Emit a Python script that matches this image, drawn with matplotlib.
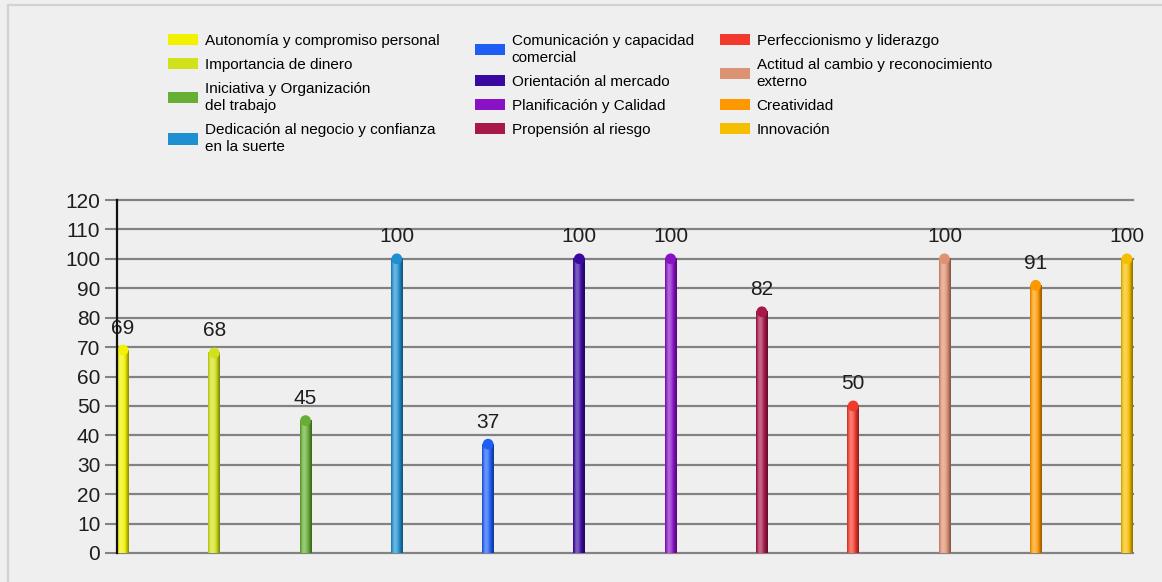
import numpy as np
import matplotlib.pyplot as plt
from matplotlib.patches import Patch
from matplotlib.colors import to_rgb
from matplotlib.lines import Line2D

plt.rcParams["font.family"] = ["Liberation Sans", "DejaVu Sans"]

categories = [
    "Autonomía y compromiso personal",
    "Importancia de dinero",
    "Iniciativa y Organización\ndel trabajo",
    "Dedicación al negocio y confianza\nen la suerte",
    "Comunicación y capacidad\ncomercial",
    "Orientación al mercado",
    "Planificación y Calidad",
    "Propensión al riesgo",
    "Perfeccionismo y liderazgo",
    "Actitud al cambio y reconocimiento\nexterno",
    "Creatividad",
    "Innovación",
]
values = [69, 68, 45, 100, 37, 100, 100, 82, 50, 100, 91, 100]
colors = [
    "#F2F200", "#D2E21A", "#67AE34", "#1E8FD0",
    "#1F5EF5", "#3A0AA0", "#8A12C6", "#A8174A",
    "#F23A2C", "#DE9274", "#FF9800", "#F6BE00",
]
yticks = list(range(0, 121, 10))

BG = "#EFEFEF"
GRID = "#828282"

fig = plt.figure(figsize=(11.62, 5.82), dpi=100, facecolor=BG)
ax = fig.add_axes([117 / 1162, 1 - 553 / 582, (1133 - 117) / 1162, (553 - 200) / 582])
ax.set_facecolor(BG)

# light frame at top/left of the picture
fig.add_artist(Line2D([8 / 1162, 8 / 1162], [0, 1 - 5 / 582], transform=fig.transFigure,
                      color="#D2D2D2", lw=1.6))
fig.add_artist(Line2D([8 / 1162, 1], [1 - 5 / 582, 1 - 5 / 582], transform=fig.transFigure,
                      color="#D2D2D2", lw=1.6))


def shade(c, f):
    c = np.array(to_rgb(c))
    if f >= 0:
        return c + (1 - c) * f
    return c * (1 + f)


# cylinder-like bars with horizontal gradient
w = 0.13
profile = np.array([-0.15, 0.15, 0.3, 0.35, 0.3, 0.2, 0.05, -0.1, -0.25, -0.4])
x = np.arange(len(values))
for xi, v, c in zip(x, values, colors):
    grad = np.array([[shade(c, f) for f in profile]])
    ax.imshow(grad, extent=[xi - w / 2, xi + w / 2, 0, v], aspect="auto",
              interpolation="bicubic", zorder=3)
    ax.scatter([xi], [v], s=60, color=c, zorder=4, edgecolors="none")
    ax.annotate(str(v), (xi, v), xytext=(0, 9), textcoords="offset points",
                ha="center", va="bottom", fontsize=15, color="#1E1E1E")

ax.set_xlim(-0.066, len(values) - 1 + 0.066)
ax.set_ylim(0, 120)
ax.set_yticks(yticks)
ax.set_xticks([])
ax.tick_params(axis="y", length=9, width=1.5, color=GRID, labelsize=15,
               labelcolor="#1E1E1E", pad=3)
ax.yaxis.grid(True, color=GRID, lw=1.6, zorder=1)
ax.set_axisbelow(True)
for gl in ax.get_ygridlines():
    gl.set_clip_on(False)
for s in ["top", "right", "bottom"]:
    ax.spines[s].set_visible(False)
ax.spines["left"].set_color("#111111")
ax.spines["left"].set_linewidth(1.6)
ax.spines["left"].set_zorder(5)

# legend in three columns
col_x = [168, 475, 720]
for k in range(3):
    handles = [Patch(facecolor=colors[i], edgecolor="none", label=categories[i])
               for i in range(4 * k, 4 * k + 4)]
    leg = fig.legend(handles=handles, loc="upper left",
                     bbox_to_anchor=(col_x[k] / 1162, 1 - 34 / 582),
                     frameon=False, fontsize=11, handlelength=1.95, handleheight=0.75,
                     handletextpad=0.45, labelspacing=0.65, borderpad=0, borderaxespad=0)
    for t in leg.get_texts():
        t.set_linespacing(1.3)

fig.savefig("out.png", dpi=100, facecolor=BG)
